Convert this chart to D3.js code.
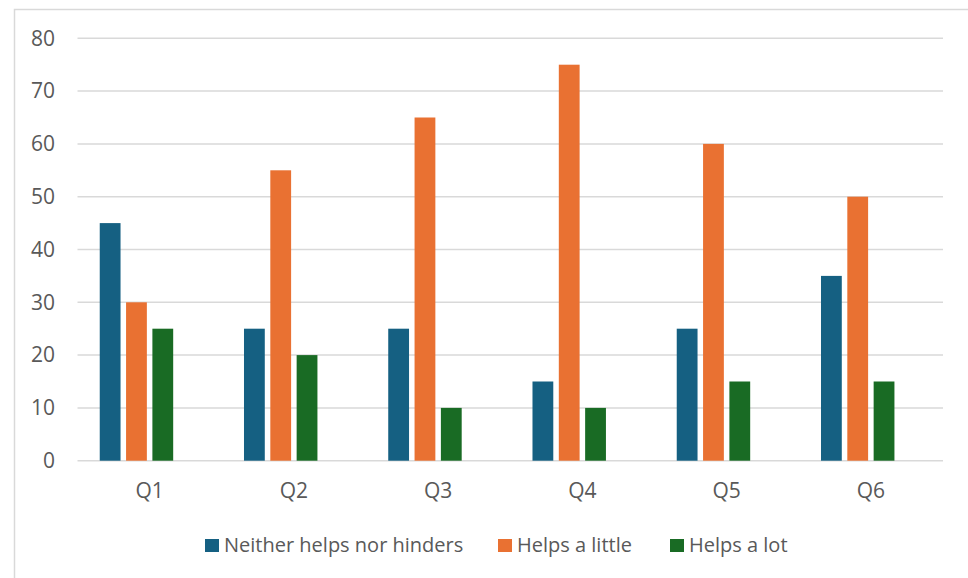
<!DOCTYPE html>
<html>
<head>
<meta charset="utf-8">
<script src="https://cdn.jsdelivr.net/npm/d3@7"></script>
<style>
  html, body { margin: 0; padding: 0; background: #fff; }
  svg { display: block; font-family: "Open Sans", sans-serif; }
</style>
</head>
<body>
<svg id="chart" width="968" height="578"></svg>
<script>
// ---- data ----
const categories = ["Q1", "Q2", "Q3", "Q4", "Q5", "Q6"];
const seriesNames = ["Neither helps nor hinders", "Helps a little", "Helps a lot"];
const neitherValues = [45, 25, 25, 15, 25, 35];
const littleValues = [30, 55, 65, 75, 60, 50];
const lotValues = [25, 20, 10, 10, 15, 15];
const yTicks = [0, 10, 20, 30, 40, 50, 60, 70, 80];
const seriesColors = ["#156082", "#E97132", "#196B24"];

const seriesValues = [neitherValues, littleValues, lotValues];
// 4 slots per category (the last one is an empty series in the original)
const slotKeys = ["s0", "s1", "s2", "s3"];

const svg = d3.select("#chart");

// outer frame
svg.append("rect")
  .attr("x", 14.5).attr("y", 9.5)
  .attr("width", 1000).attr("height", 700)
  .attr("fill", "none").attr("stroke", "#d9d9d9").attr("stroke-width", 1.5);

const plot = { left: 77.5, right: 943, top: 38.3, bottom: 460.7 };

const x = d3.scaleBand().domain(categories).range([plot.left, plot.right]).padding(0);
const bw = x.bandwidth();
const xInner = d3.scaleBand().domain(slotKeys)
  .range([bw * 0.135, bw * 0.865]).paddingInner(0.21).paddingOuter(0.105);
const y = d3.scaleLinear().domain([0, 80]).range([plot.bottom, plot.top]);

// gridlines
svg.append("g").selectAll("line").data(yTicks).join("line")
  .attr("x1", plot.left).attr("x2", plot.right)
  .attr("y1", d => y(d)).attr("y2", d => y(d))
  .attr("stroke", "#d9d9d9").attr("stroke-width", 1.5);

// y labels
svg.append("g").selectAll("text").data(yTicks).join("text")
  .attr("x", 55).attr("y", d => y(d))
  .attr("dy", "0.35em")
  .attr("text-anchor", "end")
  .attr("font-size", 21).attr("fill", "#595959")
  .text(d => d);

// bars
const groups = svg.append("g").selectAll("g").data(categories).join("g")
  .attr("transform", d => `translate(${x(d)},0)`);
groups.selectAll("rect")
  .data((c, ci) => seriesValues.map((vals, si) => ({ key: slotKeys[si], v: vals[ci], si })))
  .join("rect")
  .attr("x", d => xInner(d.key))
  .attr("width", xInner.bandwidth())
  .attr("y", d => y(d.v))
  .attr("height", d => y(0) - y(d.v))
  .attr("fill", d => seriesColors[d.si]);

// x labels
svg.append("g").selectAll("text").data(categories).join("text")
  .attr("x", d => x(d) + bw / 2).attr("y", 498)
  .attr("text-anchor", "middle")
  .attr("font-size", 21).attr("fill", "#595959")
  .text(d => d);

// legend
const legendX = [205, 498, 670];
const legend = svg.append("g").selectAll("g").data(seriesNames).join("g")
  .attr("transform", (d, i) => `translate(${legendX[i]},539)`);
legend.append("rect").attr("width", 14).attr("height", 13)
  .attr("fill", (d, i) => seriesColors[i]);
legend.append("text").attr("x", 19).attr("y", 13)
  .attr("font-size", 20).attr("fill", "#595959")
  .text(d => d);
</script>
</body>
</html>
